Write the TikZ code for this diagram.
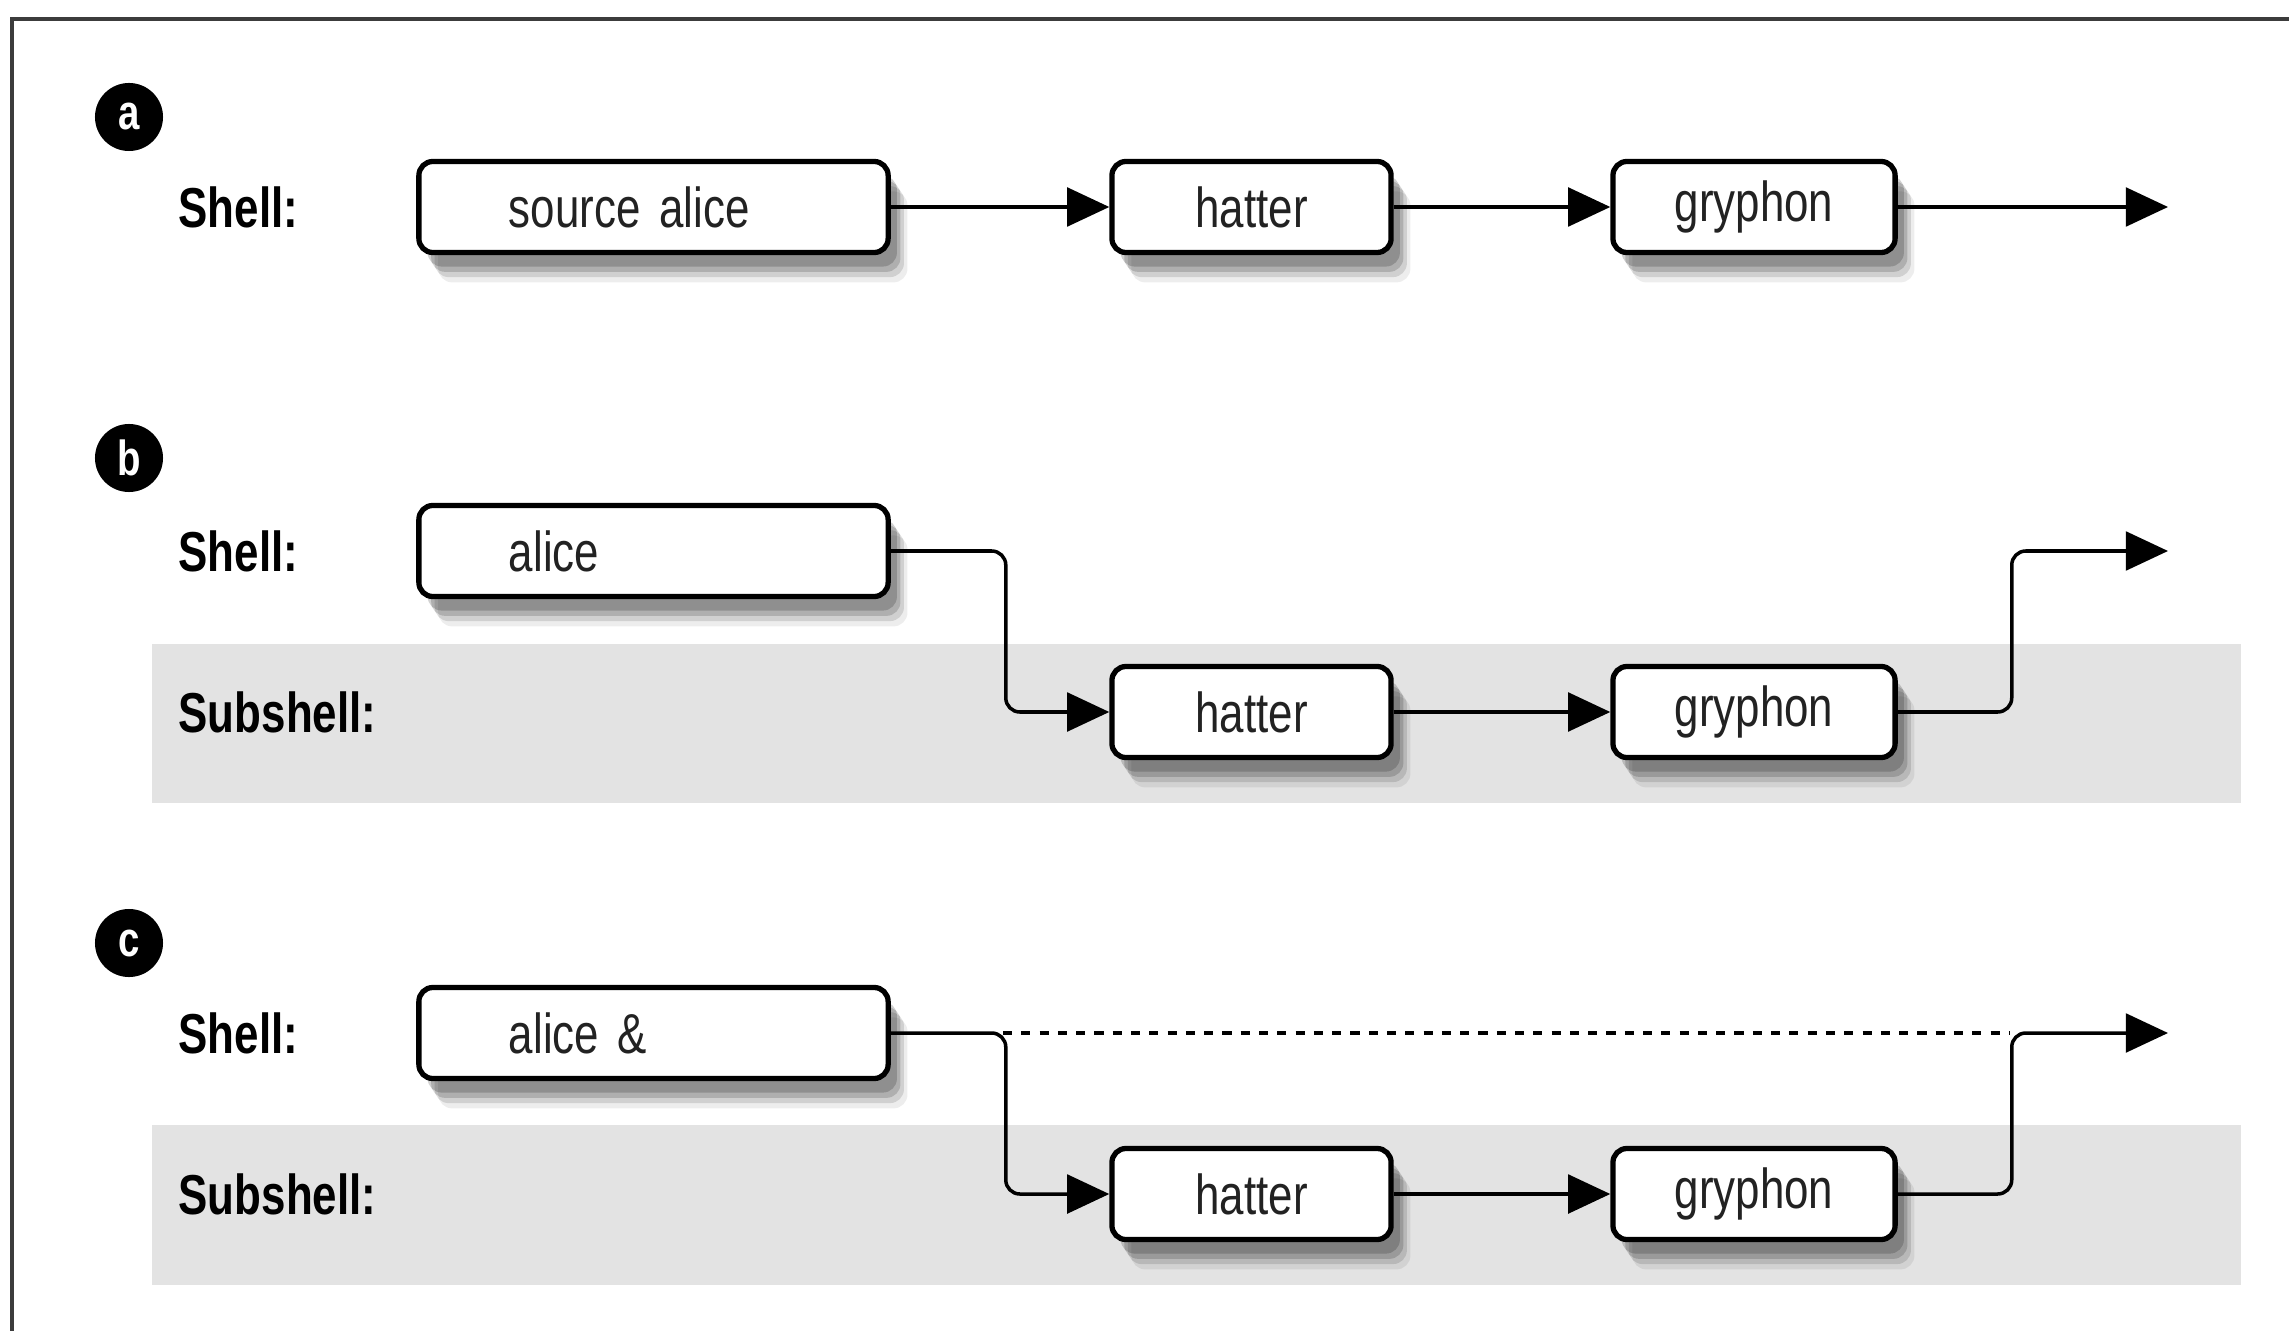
\documentclass[tikz,border=0pt]{standalone}
\usepackage{fontspec}
\setmainfont[FakeStretch=0.78]{Liberation Sans}
\usetikzlibrary{arrows.meta,shadows}
\definecolor{band}{HTML}{E3E3E3}
\definecolor{frame}{HTML}{3C3C3C}
\definecolor{txt}{HTML}{222222}
\newcommand\cmdboxfont{\fontsize{16}{19}\selectfont\spaceskip=2.7pt plus 1pt\relax}
\begin{document}
\begin{tikzpicture}[x=0.01cm,y=-0.01cm,
  cmd/.style={draw=black, line width=1.5pt, rounded corners=4pt, fill=white,
    minimum height=0.91cm, inner ysep=0pt,
    font=\cmdboxfont, text=txt,
    drop shadow={shadow xshift=2.5pt, shadow yshift=-4pt, opacity=0.18, fill=black},
    drop shadow={shadow xshift=3.5pt, shadow yshift=-5.5pt, opacity=0.16, fill=black},
    drop shadow={shadow xshift=4.5pt, shadow yshift=-7pt, opacity=0.12, fill=black},
    drop shadow={shadow xshift=5.5pt, shadow yshift=-8.5pt, opacity=0.07, fill=black}},
  wide/.style={text width=2.89cm, align=left, inner xsep=0.9cm},
  hat/.style={minimum width=2.79cm},
  gry/.style={minimum width=2.82cm},
  lab/.style={anchor=west, inner sep=0pt, font=\fontsize{16}{19}\selectfont\bfseries},
  badge/.style={circle, fill=black, minimum size=0.68cm, inner sep=0pt, text=white,
    font=\fontsize{14}{17}\selectfont\bfseries},
  conn/.style={line width=1pt, rounded corners=4pt, -{Triangle[length=12pt,width=11pt]}},
  dashline/.style={line width=0.9pt, dash pattern=on 2.6pt off 2.6pt}
]
\useasboundingbox (0,0) rectangle (2289,1331);
% frame
\draw[frame, line width=1.2pt] (12,1331) -- (12,19) -- (2289,19);
% bands
\fill[band] (152,644) rectangle (2241,803);
\fill[band] (152,1125) rectangle (2241,1285);
% badges
\node[badge] (ba) at (129,117) {a};
\node[badge] (bb) at (129,458) {b};
\node[badge] (bc) at (129,943) {c};
% labels
\node[lab] (la) at (178,207) {Shell:};
\node[lab] (lb1) at (178,551) {Shell:};
\node[lab] (lb2) at (178,712) {Subshell:};
\node[lab] (lc1) at (178,1033) {Shell:};
\node[lab] (lc2) at (178,1194) {Subshell:};
% row a
\node[cmd, wide] (a1) at (653.5,207) {source alice};
\node[cmd, hat] (a2) at (1251.5,207) {hatter};
\node[cmd, gry] (a3) at (1754,207) {gryphon};
\coordinate (aend) at (2168,207);
\draw[conn] (a1.east) -- (a2.west);
\draw[conn] (a2.east) -- (a3.west);
\draw[conn] (a3.east) -- (aend);
% row b
\node[cmd, wide] (b1) at (653.5,551) {alice};
\node[cmd, hat] (b2) at (1251.5,712) {hatter};
\node[cmd, gry] (b3) at (1754,712) {gryphon};
\coordinate (bend) at (2168,551);
\draw[conn] (b1.east) -- ++(115,0) |- (b2.west);
\draw[conn] (b2.east) -- (b3.west);
\draw[conn] (b3.east) -- ++(114,0) |- (bend);
% row c
\node[cmd, wide] (c1) at (653.5,1033) {alice \&};
\node[cmd, hat] (c2) at (1251.5,1194) {hatter};
\node[cmd, gry] (c3) at (1754,1194) {gryphon};
\coordinate (cend) at (2168,1033);
\coordinate (cd1) at (1003,1033);
\coordinate (cd2) at (2009,1033);
\draw[conn] (c1.east) -- ++(115,0) |- (c2.west);
\draw[dashline] (cd1) -- (cd2);
\draw[conn] (c2.east) -- (c3.west);
\draw[conn] (c3.east) -- ++(114,0) |- (cend);
\end{tikzpicture}
\end{document}
